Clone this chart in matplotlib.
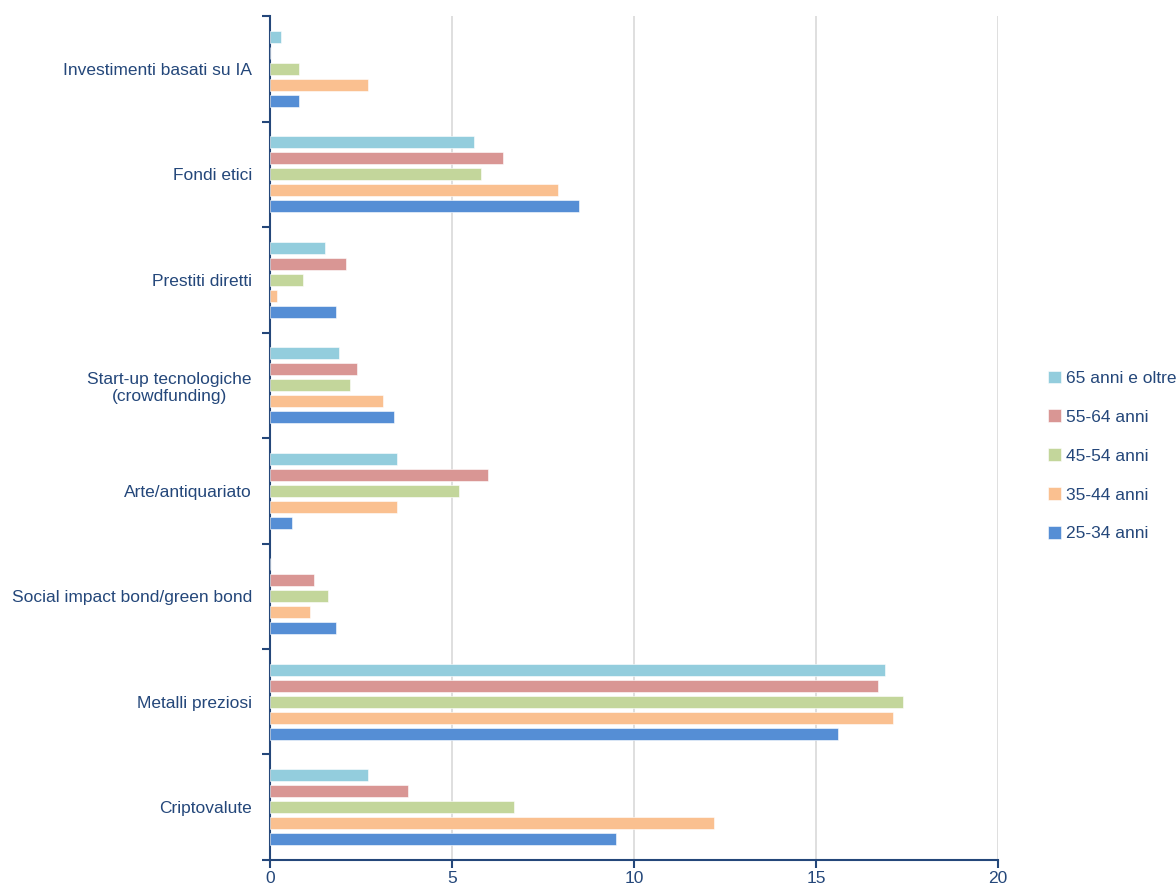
import numpy as np
import matplotlib.pyplot as plt

# categorie (dall'alto verso il basso)
categorie = [
    "Investimenti basati su IA",
    "Fondi etici",
    "Prestiti diretti",
    "Start-up tecnologiche\n(crowdfunding)",
    "Arte/antiquariato",
    "Social impact bond/green bond",
    "Metalli preziosi",
    "Criptovalute",
]

etichette = ["65 anni e oltre", "55-64 anni", "45-54 anni", "35-44 anni", "25-34 anni"]

v_65 = [0.3, 5.6, 1.5, 1.9, 3.5, 0.0, 16.9, 2.7]
v_55 = [0.0, 6.4, 2.1, 2.4, 6.0, 1.2, 16.7, 3.8]
v_45 = [0.8, 5.8, 0.9, 2.2, 5.2, 1.6, 17.4, 6.7]
v_35 = [2.7, 7.9, 0.2, 3.1, 3.5, 1.1, 17.1, 12.2]
v_25 = [0.8, 8.5, 1.8, 3.4, 0.6, 1.8, 15.6, 9.5]

serie = [v_65, v_55, v_45, v_35, v_25]
colori = ["#93CDDD", "#D99694", "#C3D69B", "#FAC090", "#558ED5"]

plt.rcParams["font.family"] = ["Liberation Sans", "DejaVu Sans"]

blu = "#24477A"
fs = 12.5
fig = plt.figure(figsize=(11.76, 8.92), dpi=100)
ax = fig.add_axes([0.2296, 0.0359, 0.8487 - 0.2296, 0.982 - 0.0359])

y = np.arange(len(categorie))
slot = 0.1517
h = 0.115
for k, (vals, col, lab) in enumerate(zip(serie, colori, etichette)):
    ax.barh(y + (k - 2) * slot, vals, height=h, color=col, label=lab,
            edgecolor="white", linewidth=0.4, zorder=3)

ax.set_xlim(0, 20)
ax.set_ylim(len(categorie) - 0.5, -0.5)
ax.set_xticks([0, 5, 10, 15, 20])
ax.xaxis.grid(True, color="#D9D9D9", linewidth=1.2, zorder=0)

ax.set_yticks(y)
ax.set_yticklabels(categorie)
ax.set_yticks(np.arange(-0.5, len(categorie)), minor=True)
ax.tick_params(axis="y", which="major", length=0, pad=13, labelsize=fs, labelcolor=blu)
ax.tick_params(axis="y", which="minor", length=6, width=1.5, color=blu, direction="out")
ax.tick_params(axis="x", length=6, width=1.5, color=blu, labelsize=fs, labelcolor=blu, pad=2)
for t in ax.get_yticklabels():
    t.set_multialignment("center")

for s in ["top", "right"]:
    ax.spines[s].set_visible(False)
for s in ["left", "bottom"]:
    ax.spines[s].set_color(blu)
    ax.spines[s].set_linewidth(1.5)

handles, labels = ax.get_legend_handles_labels()
leg = fig.legend(handles, labels, loc="center left", bbox_to_anchor=(0.885, 0.4888),
                 frameon=False, fontsize=fs, handlelength=0.75, handleheight=0.75,
                 handletextpad=0.3, labelspacing=1.35, borderaxespad=0)
for t in leg.get_texts():
    t.set_color(blu)

fig.savefig("out.png", dpi=100)
